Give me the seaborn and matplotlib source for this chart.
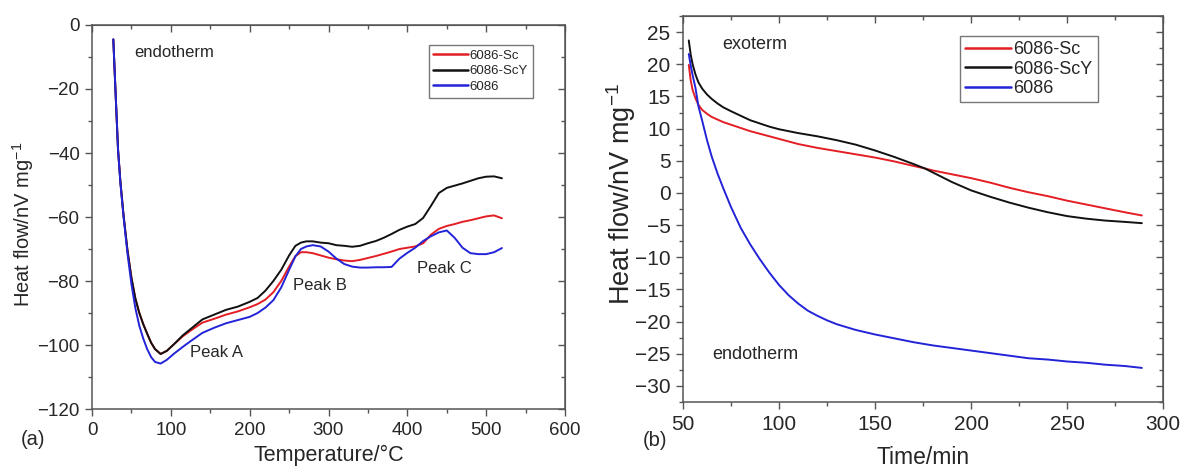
import numpy as np
import pandas as pd
import matplotlib
matplotlib.use("Agg")
import matplotlib.pyplot as plt
from matplotlib.ticker import MultipleLocator
import seaborn as sns

# ---------------- data: panel (a) DSC heating ----------------
temp_c = [27, 30, 33, 36, 40, 45, 50, 55, 60, 65, 70, 75, 80, 87, 95,
          105, 115, 125, 140, 155, 170, 185, 200, 210, 220, 230, 240, 250,
          258, 265, 272, 280, 290, 300, 310, 320, 330, 340, 350, 360, 370,
          380, 390, 400, 410, 420, 430, 440, 450, 460, 470, 480, 490, 500,
          510, 520]
a_scy = [-4.5, -22, -39, -49, -59.5, -70.5, -79, -85.5, -90, -93.5, -96.5,
         -99.3, -101.3, -102.8, -101.8, -99.5, -97, -95, -92, -90.5, -89,
         -88, -86.5, -85.3, -83, -80, -76.5, -72, -69, -68, -67.6, -67.6,
         -68, -68.2, -68.8, -69, -69.3, -69, -68.2, -67.5, -66.5, -65.3,
         -64, -63, -62.2, -60.3, -56.5, -52.5, -50.9, -50.2, -49.5, -48.7,
         -47.9, -47.4, -47.3, -47.9]
a_sc = [-4.5, -22, -39, -49, -59.5, -70.5, -79, -85.5, -90, -93.5, -96.5,
        -99.3, -101.3, -102.8, -101.8, -99.5, -97.3, -95.5, -93, -91.8,
        -90.5, -89.5, -88.2, -87.2, -85.8, -83.5, -80, -75.5, -72.2, -71,
        -71, -71.3, -72, -72.7, -73.2, -73.6, -73.8, -73.4, -72.8, -72.2,
        -71.5, -70.8, -70, -69.6, -69.2, -68.2, -65.5, -63.7, -62.8, -62.2,
        -61.5, -61, -60.4, -59.8, -59.5, -60.4]
a_base = [-4.5, -22, -39, -49.5, -60, -71.5, -81, -88.5, -94, -98, -101.3,
          -103.8, -105.3, -105.8, -104.6, -102.5, -100.6, -98.8, -96.2,
          -94.6, -93.2, -92.2, -91.2, -90, -88.3, -86, -82, -76.5, -72.3,
          -70, -69.2, -68.8, -69.2, -70.8, -73, -74.7, -75.5, -75.8, -75.8,
          -75.7, -75.7, -75.6, -73, -71.2, -69.6, -67.5, -66, -64.8, -64.2,
          -66.5, -69.6, -71.3, -71.6, -71.6, -71, -69.7]

# ---------------- data: panel (b) isothermal ----------------
time_min = [53, 54, 55, 56.5, 58, 60, 62.5, 65, 68, 71, 75, 80, 85, 90, 95,
            100, 105, 110, 115, 120, 125, 130, 140, 150, 160, 170, 176, 180,
            190, 200, 210, 220, 230, 240, 250, 260, 270, 280, 289]
b_scy = [23.7, 21.5, 20.0, 18.4, 17.2, 16.2, 15.3, 14.6, 13.9, 13.3, 12.7,
         12.0, 11.3, 10.8, 10.3, 9.9, 9.6, 9.3, 9.05, 8.8, 8.5, 8.2, 7.5,
         6.6, 5.6, 4.5, 3.8, 3.2, 1.7, 0.4, -0.6, -1.5, -2.3, -3.0, -3.6,
         -4.0, -4.3, -4.5, -4.7]
b_sc = [19.9, 17.5, 16.0, 14.7, 13.7, 12.9, 12.3, 11.8, 11.4, 11.0, 10.6,
        10.1, 9.6, 9.2, 8.8, 8.4, 8.0, 7.6, 7.3, 7.0, 6.75, 6.5, 6.0, 5.5,
        4.9, 4.2, 3.8, 3.5, 2.9, 2.3, 1.6, 0.8, 0.1, -0.5, -1.2, -1.8, -2.4,
        -3.0, -3.5]
b_base = [21.6, 19.8, 18.3, 16.3, 13.5, 11.2, 8.2, 5.6, 3.0, 0.7, -2.2,
          -5.4, -8.0, -10.3, -12.4, -14.3, -15.9, -17.2, -18.3, -19.1, -19.8,
          -20.4, -21.3, -22.0, -22.6, -23.2, -23.5, -23.7, -24.1, -24.5,
          -24.9, -25.3, -25.7, -25.9, -26.2, -26.4, -26.7, -26.9, -27.2]

series_names = ["6086-Sc", "6086-ScY", "6086"]
colors = {"6086-Sc": "#e31e24", "6086-ScY": "#111111", "6086": "#2323d8"}

df_a = pd.concat([
    pd.DataFrame({"x": temp_c, "y": a_sc, "alloy": "6086-Sc"}),
    pd.DataFrame({"x": temp_c, "y": a_scy, "alloy": "6086-ScY"}),
    pd.DataFrame({"x": temp_c, "y": a_base, "alloy": "6086"}),
], ignore_index=True)
df_b = pd.concat([
    pd.DataFrame({"x": time_min, "y": b_sc, "alloy": "6086-Sc"}),
    pd.DataFrame({"x": time_min, "y": b_scy, "alloy": "6086-ScY"}),
    pd.DataFrame({"x": time_min, "y": b_base, "alloy": "6086"}),
], ignore_index=True)

sns.set_style("ticks")
plt.rcParams["font.family"] = ["Liberation Sans", "DejaVu Sans"]
plt.rcParams["mathtext.fontset"] = "custom"
plt.rcParams["mathtext.rm"] = "Liberation Sans"
plt.rcParams["mathtext.it"] = "Liberation Sans"
plt.rcParams["axes.unicode_minus"] = True

fig = plt.figure(figsize=(11.86, 4.68), dpi=100)
axA = fig.add_axes([0.0776, 0.126, 0.3988, 0.8206])
axB = fig.add_axes([0.5759, 0.141, 0.4047, 0.8248])

spine_col = "#555555"


def style_axis(ax, xmaj, xmin, ymaj, ymin, fs):
    for s in ax.spines.values():
        s.set_color(spine_col)
        s.set_linewidth(1.1)
    ax.xaxis.set_major_locator(MultipleLocator(xmaj))
    ax.xaxis.set_minor_locator(MultipleLocator(xmin))
    ax.yaxis.set_major_locator(MultipleLocator(ymaj))
    ax.yaxis.set_minor_locator(MultipleLocator(ymin))
    ax.tick_params(which="major", direction="out", length=5, width=1.0,
                   color=spine_col, labelsize=fs, pad=4)
    ax.tick_params(which="minor", direction="out", length=3, width=1.0,
                   color=spine_col)
    top = ax.secondary_xaxis("top")
    top.xaxis.set_major_locator(MultipleLocator(xmaj))
    top.xaxis.set_minor_locator(MultipleLocator(xmin))
    top.tick_params(which="major", direction="in", length=5, width=1.0,
                    color=spine_col, labeltop=False)
    top.tick_params(which="minor", direction="in", length=3, width=1.0,
                    color=spine_col)
    top.spines["top"].set_color(spine_col)
    right = ax.secondary_yaxis("right")
    right.yaxis.set_major_locator(MultipleLocator(ymaj))
    right.yaxis.set_minor_locator(MultipleLocator(ymin))
    right.tick_params(which="major", direction="in", length=5, width=1.0,
                      color=spine_col, labelright=False)
    right.tick_params(which="minor", direction="in", length=3, width=1.0,
                      color=spine_col)
    right.spines["right"].set_color(spine_col)


# ---------------- panel (a) ----------------
sns.lineplot(data=df_a, x="x", y="y", hue="alloy", hue_order=series_names,
             palette=colors, sort=False, estimator=None, linewidth=1.4,
             ax=axA)
axA.set_xlim(0, 600)
axA.set_ylim(-120, 0)
style_axis(axA, 100, 50, 20, 10, 13.5)
axA.set_xlabel("Temperature/°C", fontsize=15.5)
axA.set_ylabel("Heat flow/nV mg$^{-1}$", fontsize=14.5)
axA.xaxis.set_label_coords(0.5, -0.12)
axA.xaxis.label.set_va("center")
axA.yaxis.set_label_coords(-0.146, 0.48)
axA.yaxis.label.set_va("center")
leg = axA.legend(loc="upper left", bbox_to_anchor=(0.712, 0.948),
                 fontsize=9.5, frameon=True, fancybox=False,
                 handlelength=2.6, handletextpad=0.15, borderpad=0.35,
                 labelspacing=0.25, borderaxespad=0)
leg.get_frame().set_edgecolor("#555555")
leg.get_frame().set_linewidth(1.0)
for h in leg.get_lines():
    h.set_linewidth(1.8)
axA.text(53.7, -8.6, "endotherm", fontsize=12, va="center", ha="left")
axA.text(124.8, -102.4, "Peak A", fontsize=12, va="center", ha="left")
axA.text(255.3, -81.3, "Peak B", fontsize=12, va="center", ha="left")
axA.text(412.5, -76.1, "Peak C", fontsize=12, va="center", ha="left")
fig.text(0.0175, 0.06, "(a)", fontsize=14.5, ha="left", va="center")

# ---------------- panel (b) ----------------
sns.lineplot(data=df_b, x="x", y="y", hue="alloy", hue_order=series_names,
             palette=colors, sort=False, estimator=None, linewidth=1.4,
             ax=axB)
axB.set_xlim(50, 300)
axB.set_ylim(-32.5, 27.5)
style_axis(axB, 50, 25, 5, 2.5, 15)
axB.set_xlabel("Time/min", fontsize=16.5)
axB.set_ylabel("Heat flow/nV mg$^{-1}$", fontsize=19.5)
axB.xaxis.set_label_coords(0.5, -0.145)
axB.xaxis.label.set_va("center")
axB.yaxis.set_label_coords(-0.13, 0.54)
axB.yaxis.label.set_va("center")
leg = axB.legend(loc="upper left", bbox_to_anchor=(0.577, 0.948),
                 fontsize=13, frameon=True, fancybox=False,
                 handlelength=2.5, handletextpad=0.15, borderpad=0.3,
                 labelspacing=0.12, borderaxespad=0)
leg.get_frame().set_edgecolor("#555555")
leg.get_frame().set_linewidth(1.0)
for h in leg.get_lines():
    h.set_linewidth(1.8)
axB.text(70.2, 23.1, "exoterm", fontsize=13, va="center", ha="left")
axB.text(65.3, -25.1, "endotherm", fontsize=13, va="center", ha="left")
fig.text(0.542, 0.058, "(b)", fontsize=14.5, ha="left", va="center")

fig.savefig("out.png", dpi=100)
